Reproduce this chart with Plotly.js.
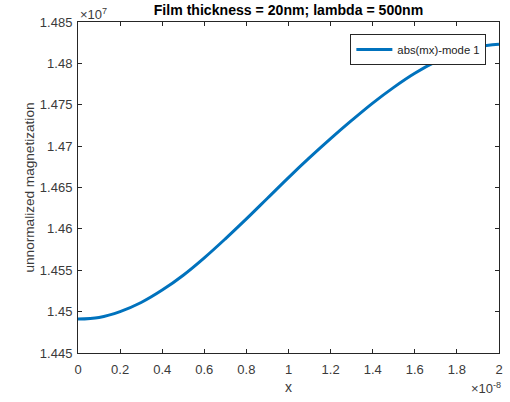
<!DOCTYPE html>
<html>
<head>
<meta charset="utf-8">
<script src="https://cdn.plot.ly/plotly-3.0.1.min.js"></script>
<style>html,body{margin:0;padding:0;background:#fff;}#chart{width:510px;height:402px;}</style>
</head>
<body>
<div id="chart"></div>
<script>
// x in units of 1e-8, magnetization in units of 1e7
const xValues = [0, 0.1, 0.2, 0.3, 0.4, 0.5, 0.6, 0.7, 0.8, 0.9, 1.0, 1.1, 1.2, 1.3, 1.4, 1.5, 1.6, 1.7, 1.8, 1.9, 2.0];
const mxValues = [1.4491, 1.4493, 1.4500, 1.4511, 1.4526, 1.4544, 1.4565, 1.4588, 1.4612, 1.4637, 1.4662, 1.4686, 1.4709, 1.4731, 1.4752, 1.4771, 1.4788, 1.4802, 1.4813, 1.4820, 1.4823];
const seriesName = "abs(mx)-mode 1";
const xTickVals = [0, 0.2, 0.4, 0.6, 0.8, 1, 1.2, 1.4, 1.6, 1.8, 2];
const xTickText = ["0", "0.2", "0.4", "0.6", "0.8", "1", "1.2", "1.4", "1.6", "1.8", "2"];
const yTickVals = [1.445, 1.45, 1.455, 1.46, 1.465, 1.47, 1.475, 1.48, 1.485];
const yTickText = ["1.445", "1.45", "1.455", "1.46", "1.465", "1.47", "1.475", "1.48", "1.485"];

const FONT = 'Liberation Sans, Arial, sans-serif';
const TXT = '#3a3a3a';
const axisCommon = {
  showline: true, linecolor: '#262626', linewidth: 1, mirror: 'ticks',
  ticks: 'inside', ticklen: 4, tickcolor: '#262626', tickwidth: 1,
  showgrid: false, zeroline: false,
  tickfont: {family: FONT, size: 13, color: TXT}
};

const trace = {
  x: xValues, y: mxValues, name: seriesName, type: 'scatter', mode: 'lines',
  line: {color: '#0072BD', width: 3, shape: 'spline', smoothing: 1}
};

const layout = {
  width: 510, height: 402,
  margin: {l: 78, r: 11, t: 22, b: 49},
  paper_bgcolor: '#fff', plot_bgcolor: '#fff',
  font: {family: FONT, color: TXT},
  title: {text: '<b>Film thickness = 20nm; lambda = 500nm</b>', font: {size: 14.1, color: '#000'},
    xref: 'paper', x: 0.5, xanchor: 'center', yref: 'container', y: 0.975, yanchor: 'middle'},
  xaxis: Object.assign({}, axisCommon, {range: [0, 2], tickvals: xTickVals, ticktext: xTickText, ticklabelstandoff: 4,
    title: {text: 'x', font: {size: 14, color: TXT}, standoff: 6}}),
  yaxis: Object.assign({}, axisCommon, {range: [1.445, 1.485], tickvals: yTickVals, ticktext: yTickText, ticklabelstandoff: 2,
    title: {text: 'unnormalized magnetization', font: {size: 13.6, color: TXT}, standoff: 2}}),
  showlegend: true,
  legend: {x: 0.97, xanchor: 'right', y: 0.964, yanchor: 'top', bgcolor: '#fff', bordercolor: '#262626', borderwidth: 1,
    font: {size: 11.3, color: '#222'}, itemwidth: 36, tracegroupgap: 0},
  annotations: [
    {text: '\u00d710<sup>7</sup>', xref: 'paper', yref: 'paper', x: 0, y: 1, xanchor: 'left', yanchor: 'bottom', showarrow: false, font: {size: 13, color: TXT}, yshift: -2},
    {text: '\u00d710<sup>-8</sup>', xref: 'paper', yref: 'paper', x: 1, y: 0, xanchor: 'right', yanchor: 'top', showarrow: false, font: {size: 13, color: TXT}, yshift: -25, xshift: 4}
  ]
};

Plotly.newPlot('chart', [trace], layout, {displayModeBar: false, staticPlot: true});
</script>
</body>
</html>
